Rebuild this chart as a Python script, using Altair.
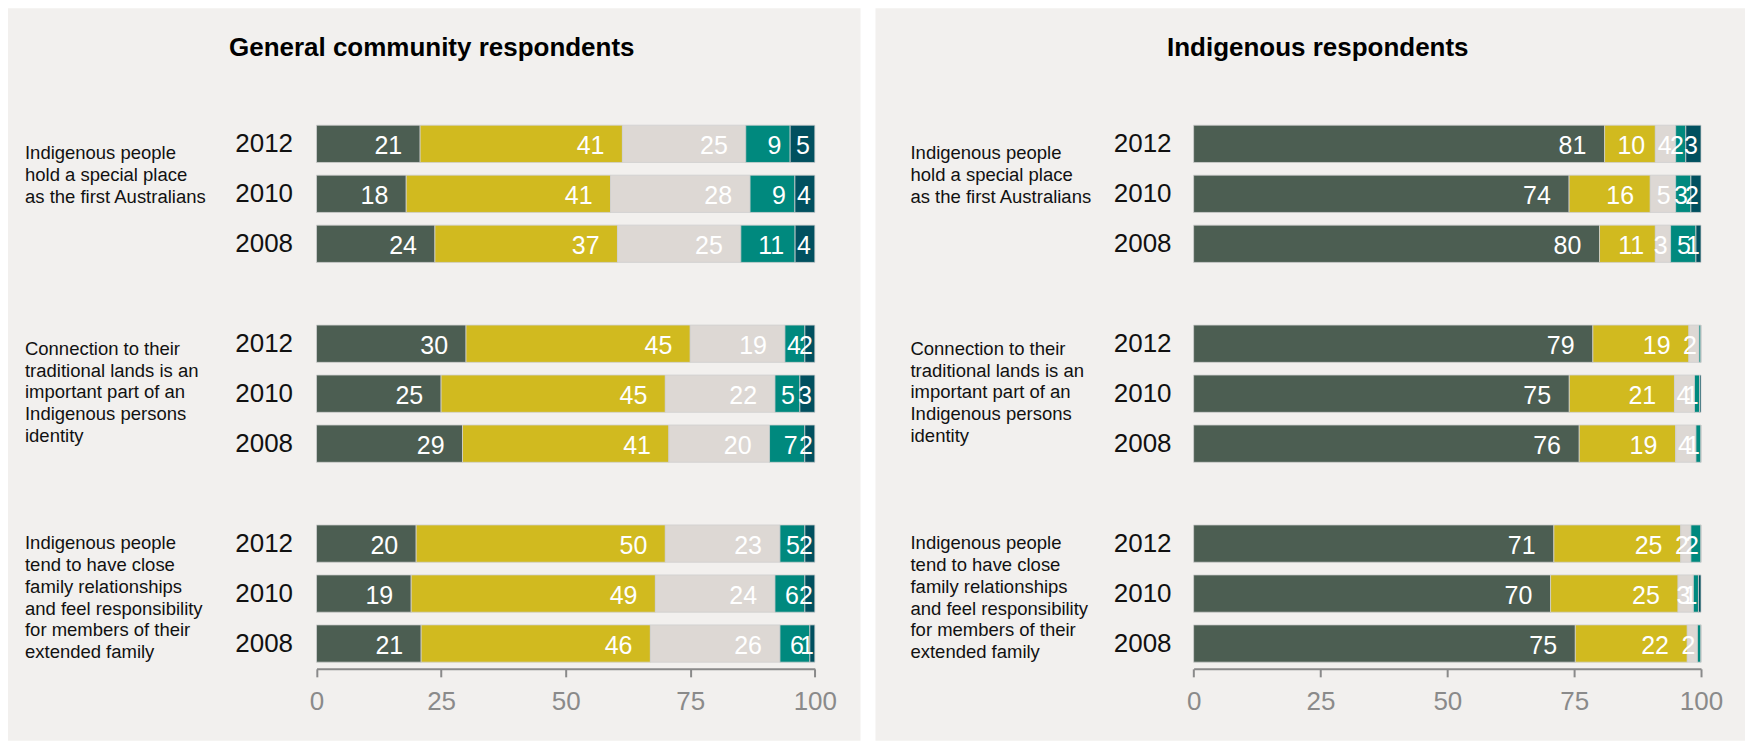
import altair as alt
import pandas as pd

# ---------------- data ----------------
panel_titles = ["General community respondents", "Indigenous respondents"]
statements = [
    "Indigenous people\nhold a special place\nas the first Australians",
    "Connection to their\ntraditional lands is an\nimportant part of an\nIndigenous persons\nidentity",
    "Indigenous people\ntend to have close\nfamily relationships\nand feel responsibility\nfor members of their\nextended family",
]
years = ["2012", "2010", "2008"]
responses = ["Strongly agree", "Agree", "Neither agree nor disagree", "Disagree", "Strongly disagree"]
ticks = [0, 25, 50, 75, 100]

# rows: statement 1 (2012, 2010, 2008), statement 2 (...), statement 3 (...)
general_values = [
    [21, 41, 25, 9, 5],
    [18, 41, 28, 9, 4],
    [24, 37, 25, 11, 4],
    [30, 45, 19, 4, 2],
    [25, 45, 22, 5, 3],
    [29, 41, 20, 7, 2],
    [20, 50, 23, 5, 2],
    [19, 49, 24, 6, 2],
    [21, 46, 26, 6, 1],
]
indigenous_values = [
    [81, 10, 4, 2, 3],
    [74, 16, 5, 3, 2],
    [80, 11, 3, 5, 1],
    [79, 19, 2, 0.4, 0],
    [75, 21, 4, 1, 0.3],
    [76, 19, 4, 1, 0],
    [71, 25, 2, 2, 0],
    [70, 25, 3, 1, 0.5],
    [75, 22, 2, 0.7, 0],
]

# ---------------- style / layout ----------------
colors = ["#4C5E52", "#D1BA1F", "#DDD8D4", "#00897E", "#01505F"]
FONT = "Liberation Sans"
H = 733
layouts = [
    dict(w=853, x0=308.7, x1=807.3, title_x=424, cat_x=17, ypad=24),
    dict(w=870, x0=318.3, x1=826.0, title_x=442.5, cat_x=35, ypad=22.6),
]
cat_dy = [15.3, 11.1, 5.6]
year_expr = "[" + ",".join("'%s'" % y for y in years) + ",''][datum.value % 4]"


def make_panel(values, title, lay):
    rows = []
    for g in range(len(statements)):
        for yi, yr in enumerate(years):
            for s, resp in enumerate(responses):
                rows.append({"slot": g * 4 + yi, "year": yr, "s": s,
                             "response": resp, "value": values[g * 3 + yi][s]})
    df = pd.DataFrame(rows)

    xscale = alt.Scale(domain=[0, 100], range=[lay["x0"], lay["x1"]], nice=False, zero=False)
    yscale = alt.Scale(domain=list(range(11)), range=[110.7, 660.7],
                       paddingInner=0.254, paddingOuter=0.127)
    xaxis = alt.Axis(values=ticks, title=None, grid=False, labelFlush=False, labelOverlap=False,
                     labelFontSize=26, labelColor="#8a8a8a", labelFont=FONT, labelPadding=12,
                     tickColor="#8a8a8a", tickSize=8, tickWidth=2,
                     domainColor="#8a8a8a", domainWidth=2, offset=661 - H)
    yaxis = alt.Axis(title=None, domain=False, ticks=False, tickSize=0, grid=False,
                     labelFontSize=26, labelColor="#111111", labelFont=FONT,
                     labelPadding=lay["ypad"], offset=-lay["x0"], labelExpr=year_expr)

    base = (
        alt.Chart(df)
        .transform_joinaggregate(total="sum(value)", groupby=["slot"])
        .transform_window(cum="sum(value)", frame=[None, 0],
                          sort=[alt.SortField("s", order="ascending")], groupby=["slot"])
        .transform_calculate(
            xs="(datum.cum - datum.value) / datum.total * 100",
            xe="datum.cum / datum.total * 100",
            xl="datum.cum / datum.total * 100 - min(3.6, 0.2 * datum.value / datum.total * 100)",
        )
    )

    bars = base.mark_bar(stroke="#cfcfcf", strokeWidth=0.8).encode(
        x=alt.X("xs:Q", scale=xscale, axis=xaxis),
        x2="xe:Q",
        y=alt.Y("slot:O", scale=yscale, axis=yaxis),
        color=alt.Color("response:N", scale=alt.Scale(domain=responses, range=colors), legend=None),
    )

    labels = base.transform_filter("datum.value >= 1").mark_text(
        align="right", baseline="middle", dy=2, fontSize=25, color="white", font=FONT
    ).encode(
        x=alt.X("xl:Q", scale=xscale, axis=xaxis),
        y=alt.Y("slot:O", scale=yscale, axis=yaxis),
        text=alt.Text("value:Q", format=".0f"),
    )

    cats = []
    for g, st in enumerate(statements):
        cats.append(
            alt.Chart(pd.DataFrame({"slot": [g * 4], "label": [st]}))
            .mark_text(align="left", baseline="alphabetic", dy=cat_dy[g], fontSize=18.5,
                       lineHeight=21.8, lineBreak="\n", font=FONT, color="#111111")
            .encode(x=alt.value(lay["cat_x"]),
                    y=alt.Y("slot:O", scale=yscale, axis=yaxis),
                    text="label:N")
        )

    ttl = (
        alt.Chart(pd.DataFrame({"t": [title]}))
        .mark_text(fontSize=26, fontWeight="bold", font=FONT, align="center",
                   baseline="alphabetic", color="#000000")
        .encode(x=alt.value(lay["title_x"]), y=alt.value(47.7), text="t:N")
    )

    return alt.layer(bars, labels, *cats, ttl).properties(width=lay["w"], height=H)


left = make_panel(general_values, panel_titles[0], layouts[0])
right = make_panel(indigenous_values, panel_titles[1], layouts[1])

chart = (
    alt.hconcat(left, right, spacing=15, bounds="flush")
    .properties(padding=0, background="white")
    .configure_view(fill="#F2F0EE", strokeWidth=0)
)

chart.save("out.html", embed_options={"renderer": "svg", "actions": False})
